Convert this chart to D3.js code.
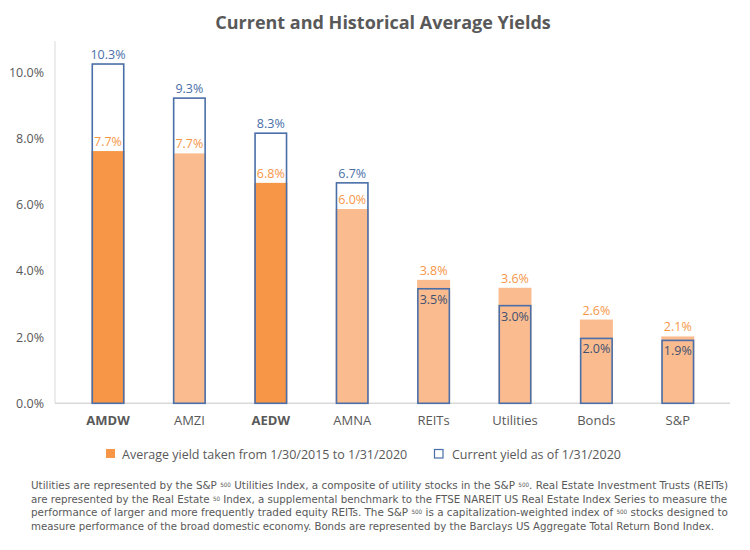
<!DOCTYPE html>
<html lang="en">
<head>
<meta charset="UTF-8">
<title>Current and Historical Average Yields</title>
<script src="https://d3js.org/d3.v7.min.js"></script>
<style>
  body { margin: 0; background: #fff; }
  text { font-family: "Open Sans", "Noto Sans", sans-serif; }
</style>
</head>
<body>
<script>
// data
const funds = ["AMDW", "AMZI", "AEDW", "AMNA", "REITs", "Utilities", "Bonds", "S&P"];
const avgYield = [7.62, 7.55, 6.66, 5.87, 3.73, 3.49, 2.53, 2.02];
const curYield = [10.25, 9.22, 8.16, 6.66, 3.46, 2.95, 1.96, 1.9];
const avgLabels = ["7.7%", "7.7%", "6.8%", "6.0%", "3.8%", "3.6%", "2.6%", "2.1%"];
const curLabels = ["10.3%", "9.3%", "8.3%", "6.7%", "3.5%", "3.0%", "2.0%", "1.9%"];
const darkBars = ["AMDW", "AEDW"];
const yTicks = [0, 2, 4, 6, 8, 10];

const W = 750, H = 550;
const svg = d3.select("body").append("svg").attr("width", W).attr("height", H);

const x = d3.scaleBand().domain(funds).range([67.3, 718.5]).paddingInner(0.595).paddingOuter(0.2975);
const y = d3.scaleLinear().domain([0, 11]).range([403.3, 39.2]);

// title
svg.append("text").attr("x", 383).attr("y", 29).attr("text-anchor", "middle")
  .style("font-size", "18px").style("font-weight", "bold").style("fill", "#595959")
  .text("Current and Historical Average Yields");

// axis lines
svg.append("line").attr("x1", 55).attr("x2", 55).attr("y1", 41).attr("y2", y(0))
  .style("stroke", "#d9d9d9").style("stroke-width", 1);
svg.append("line").attr("x1", 55).attr("x2", 730).attr("y1", y(0)).attr("y2", y(0))
  .style("stroke", "#d9d9d9").style("stroke-width", 1.5);

// y ticks
svg.selectAll(".ytick").data(yTicks).enter().append("text")
  .attr("class", "ytick").attr("x", 44).attr("y", d => y(d) + 4.5)
  .attr("text-anchor", "end").style("font-size", "12.5px").style("fill", "#595959")
  .text(d => d.toFixed(1) + "%");

// x labels
svg.selectAll(".xlab").data(funds).enter().append("text")
  .attr("class", "xlab").attr("x", d => x(d) + x.bandwidth() / 2).attr("y", 425)
  .attr("text-anchor", "middle").style("font-size", "13px").style("fill", "#595959")
  .style("font-weight", d => darkBars.includes(d) ? "bold" : "normal")
  .text(d => d);

// average yield bars
svg.selectAll(".avg").data(funds).enter().append("rect")
  .attr("class", "avg")
  .attr("x", d => x(d)).attr("width", x.bandwidth())
  .attr("y", (d, i) => y(avgYield[i])).attr("height", (d, i) => y(0) - y(avgYield[i]))
  .style("fill", d => darkBars.includes(d) ? "#f79646" : "#fabb8f");

// current yield outlines
svg.selectAll(".cur").data(funds).enter().append("rect")
  .attr("class", "cur")
  .attr("x", d => x(d) + 0.75).attr("width", x.bandwidth() - 1.5)
  .attr("y", (d, i) => y(curYield[i])).attr("height", (d, i) => y(0) - y(curYield[i]))
  .style("fill", "none").style("stroke", "#4a6fa8").style("stroke-width", 1.6);

// labels
funds.forEach(function(d, i) {
  const cx = x(d) + x.bandwidth() / 2;
  svg.append("text").attr("x", cx).attr("y", y(avgYield[i]) - 5)
    .attr("text-anchor", "middle").style("font-size", "12.5px").style("fill", "#f79646")
    .text(avgLabels[i]);
  if (curYield[i] > avgYield[i]) {
    svg.append("text").attr("x", cx).attr("y", y(curYield[i]) - 5)
      .attr("text-anchor", "middle").style("font-size", "12.5px").style("fill", "#4a6fa8")
      .text(curLabels[i]);
  } else {
    svg.append("text").attr("x", cx).attr("y", y(curYield[i]) + 15)
      .attr("text-anchor", "middle").style("font-size", "12.5px").style("fill", "#3e5170")
      .text(curLabels[i]);
  }
});

// legend
svg.append("rect").attr("x", 106).attr("y", 449).attr("width", 9).attr("height", 9).style("fill", "#f79646");
svg.append("text").attr("x", 122).attr("y", 458.5).style("font-size", "12.5px").style("fill", "#595959")
  .text("Average yield taken from 1/30/2015 to 1/31/2020");
svg.append("rect").attr("x", 434.5).attr("y", 449.5).attr("width", 8.5).attr("height", 8.5)
  .style("fill", "none").style("stroke", "#4a6fa8").style("stroke-width", 1.2);
svg.append("text").attr("x", 452).attr("y", 458.5).style("font-size", "12.5px").style("fill", "#595959")
  .text("Current yield as of 1/31/2020");

// footnote, superscripts as small raised tspans
const notes = [
  [["Utilities are represented by the S&P "], ["500", 1], [" Utilities Index, a composite of utility stocks in the S&P "], ["500", 1], [". Real Estate Investment Trusts (REITs)"]],
  [["are represented by the Real Estate "], ["50", 1], [" Index, a supplemental benchmark to the FTSE NAREIT US Real Estate Index Series to measure the"]],
  [["performance of larger and more frequently traded equity REITs. The S&P "], ["500", 1], [" is a capitalization-weighted index of "], ["500", 1], [" stocks designed to"]],
  [["measure performance of the broad domestic economy. Bonds are represented by the Barclays US Aggregate Total Return Bond Index."]]
];
const noteLen = [697, 696, 697, 683];
notes.forEach(function(parts, li) {
  const t = svg.append("text").attr("x", 31).attr("y", 489 + li * 13.6)
    .attr("textLength", noteLen[li]).attr("lengthAdjust", "spacingAndGlyphs")
    .style("font-family", "'Liberation Sans Narrow', 'DejaVu Sans Condensed', sans-serif")
    .style("font-size", "11px").style("fill", "#595959");
  parts.forEach(function(p) {
    const s = t.append("tspan").text(p[0]);
    if (p[1]) s.style("font-size", "6px").attr("baseline-shift", "2.5");
  });
});
</script>
</body>
</html>
